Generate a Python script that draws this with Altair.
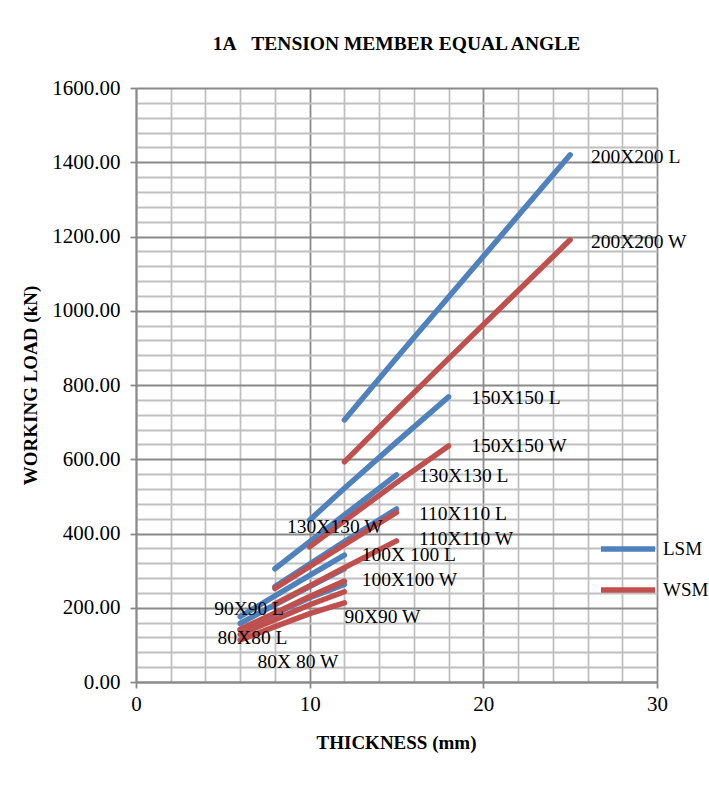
import altair as alt
import pandas as pd

# ---------------- data ----------------
t_200 = [12, 15, 18, 25]
l_200 = [706, 873, 1037, 1420]
w_200 = [593, 733, 871, 1191]

t_150 = [10, 12, 15, 18]
l_150 = [436, 522, 646, 768]
w_150 = [364, 434, 537, 636]

t_130 = [8, 10, 12, 15]
l_130 = [305, 378, 450, 558]
w_130 = [252, 311, 370, 457]

t_110 = [8, 10, 12, 15]
l_110 = [257, 318, 378, 466]
w_110 = [210, 259, 308, 380]

t_small = [6, 8, 10, 12]
l_100 = [176, 232, 287, 342]
w_100 = [142, 186, 230, 272]
l_90 = [158, 208, 257, 305]
w_90 = [128, 168, 208, 243]
l_80 = [140, 184, 227, 263]
w_80 = [113, 149, 184, 213]

label_text = ["200X200 L", "200X200 W", "150X150 L", "150X150 W", "130X130 L",
              "130X130 W", "110X110 L", "110X110 W", "100X 100 L", "100X100 W",
              "90X90 L", "90X90 W", "80X80 L", "80X 80 W"]
label_t = [26.2, 26.2, 19.3, 19.3, 16.3, 8.7, 16.3, 16.3, 13.0, 13.0, 4.5, 12.0, 4.7, 7.0]
label_v = [1414, 1185, 765, 636, 555, 418, 453, 385, 342, 275, 197, 175, 119, 54]

series = [
    ("200X200 L", "LSM", t_200, l_200), ("200X200 W", "WSM", t_200, w_200),
    ("150X150 L", "LSM", t_150, l_150), ("150X150 W", "WSM", t_150, w_150),
    ("130X130 L", "LSM", t_130, l_130), ("130X130 W", "WSM", t_130, w_130),
    ("110X110 L", "LSM", t_110, l_110), ("110X110 W", "WSM", t_110, w_110),
    ("100X100 L", "LSM", t_small, l_100), ("100X100 W", "WSM", t_small, w_100),
    ("90X90 L", "LSM", t_small, l_90), ("90X90 W", "WSM", t_small, w_90),
    ("80X80 L", "LSM", t_small, l_80), ("80X80 W", "WSM", t_small, w_80),
]

rows = []
for name, method, ts, vs in series:
    for t, v in zip(ts, vs):
        rows.append({"series": name, "method": method, "t": t, "load": v})
df = pd.DataFrame(rows)
labels_df = pd.DataFrame({"text": label_text, "t": label_t, "load": label_v})

BLUE = "#4F81BD"
RED = "#C0504D"
FONT = "Liberation Serif"

x_axis = alt.Axis(
    values=list(range(0, 31, 2)),
    labelExpr="datum.value % 10 === 0 ? datum.label : ''",
    labelOverlap=False, labelFlush=False,
    grid=True,
    gridColor={"condition": {"test": "datum.value % 10 === 0", "value": "#8a8a8a"}, "value": "#c0c0c0"},
    gridWidth=1.8,
    tickColor={"condition": {"test": "datum.value % 10 === 0", "value": "#8a8a8a"}, "value": "transparent"},
    tickSize=6,
    tickWidth=1.8,
    domainColor="#8a8a8a",
    domainWidth=1.8,
    labelFont=FONT, labelFontSize=21, labelColor="black", labelPadding=5,
    title="THICKNESS (mm)", titleFont=FONT, titleFontSize=19, titleFontWeight="bold",
    titleColor="black", titleX=260, titleY=60, titleBaseline="middle", titleAlign="center",
)

y_axis = alt.Axis(
    values=list(range(0, 1601, 40)),
    labelExpr="datum.value % 200 === 0 ? format(datum.value, '.2f') : ''",
    labelOverlap=False, labelFlush=False,
    grid=True,
    gridColor={"condition": {"test": "datum.value % 200 === 0", "value": "#8a8a8a"}, "value": "#c0c0c0"},
    gridWidth=1.8,
    tickColor={"condition": {"test": "datum.value % 200 === 0", "value": "#8a8a8a"}, "value": "transparent"},
    tickSize=6,
    tickWidth=1.8,
    domainColor="#8a8a8a",
    domainWidth=1.8,
    labelFont=FONT, labelFontSize=21, labelColor="black", labelPadding=10,
    title="WORKING LOAD (kN)", titleFont=FONT, titleFontSize=19, titleFontWeight="bold",
    titleColor="black", titleX=-106, titleY=297, titleAngle=-90,
    titleBaseline="middle", titleAlign="center",
)

x_enc = alt.X("t:Q", scale=alt.Scale(domain=[0, 30], nice=False), axis=x_axis)
y_enc = alt.Y("load:Q", scale=alt.Scale(domain=[0, 1600], nice=False), axis=y_axis)
color_enc = alt.Color(
    "method:N",
    scale=alt.Scale(domain=["LSM", "WSM"], range=[BLUE, RED]),
    legend=alt.Legend(
        title=None, orient="none", legendX=462, legendY=431,
        symbolType="stroke", symbolSize=2916, symbolStrokeWidth=5.5,
        labelFont=FONT, labelFontSize=19, labelColor="black", labelOffset=5,
        padding=0, rowPadding=0,
    ),
)

base = alt.Chart(df)
blue_lines = base.transform_filter("datum.method === 'LSM'").mark_line(
    strokeWidth=5.5, strokeCap="round").encode(x=x_enc, y=y_enc, color=color_enc, detail="series:N")
red_lines = base.transform_filter("datum.method === 'WSM'").mark_line(
    strokeWidth=5.5, strokeCap="round").encode(x=x_enc, y=y_enc, color=color_enc, detail="series:N")

texts = alt.Chart(labels_df).mark_text(
    align="left", baseline="middle", font=FONT, fontSize=19.5, color="black"
).encode(x=x_enc, y=y_enc, text="text:N")

chart = alt.layer(blue_lines, red_lines, texts).properties(
    width=521, height=594,
    autosize="none",
    padding={"left": 136, "top": 88, "right": 52, "bottom": 105},
    title=alt.TitleParams(
        "1A\u00a0\u00a0\u00a0TENSION MEMBER EQUAL ANGLE",
        font=FONT, fontSize=19.5, fontWeight="bold", color="black",
        anchor="middle", offset=23,
    ),
).configure_view(stroke=None).configure(background="white")

chart.save("out.html", embed_options={"renderer": "svg", "actions": False})
